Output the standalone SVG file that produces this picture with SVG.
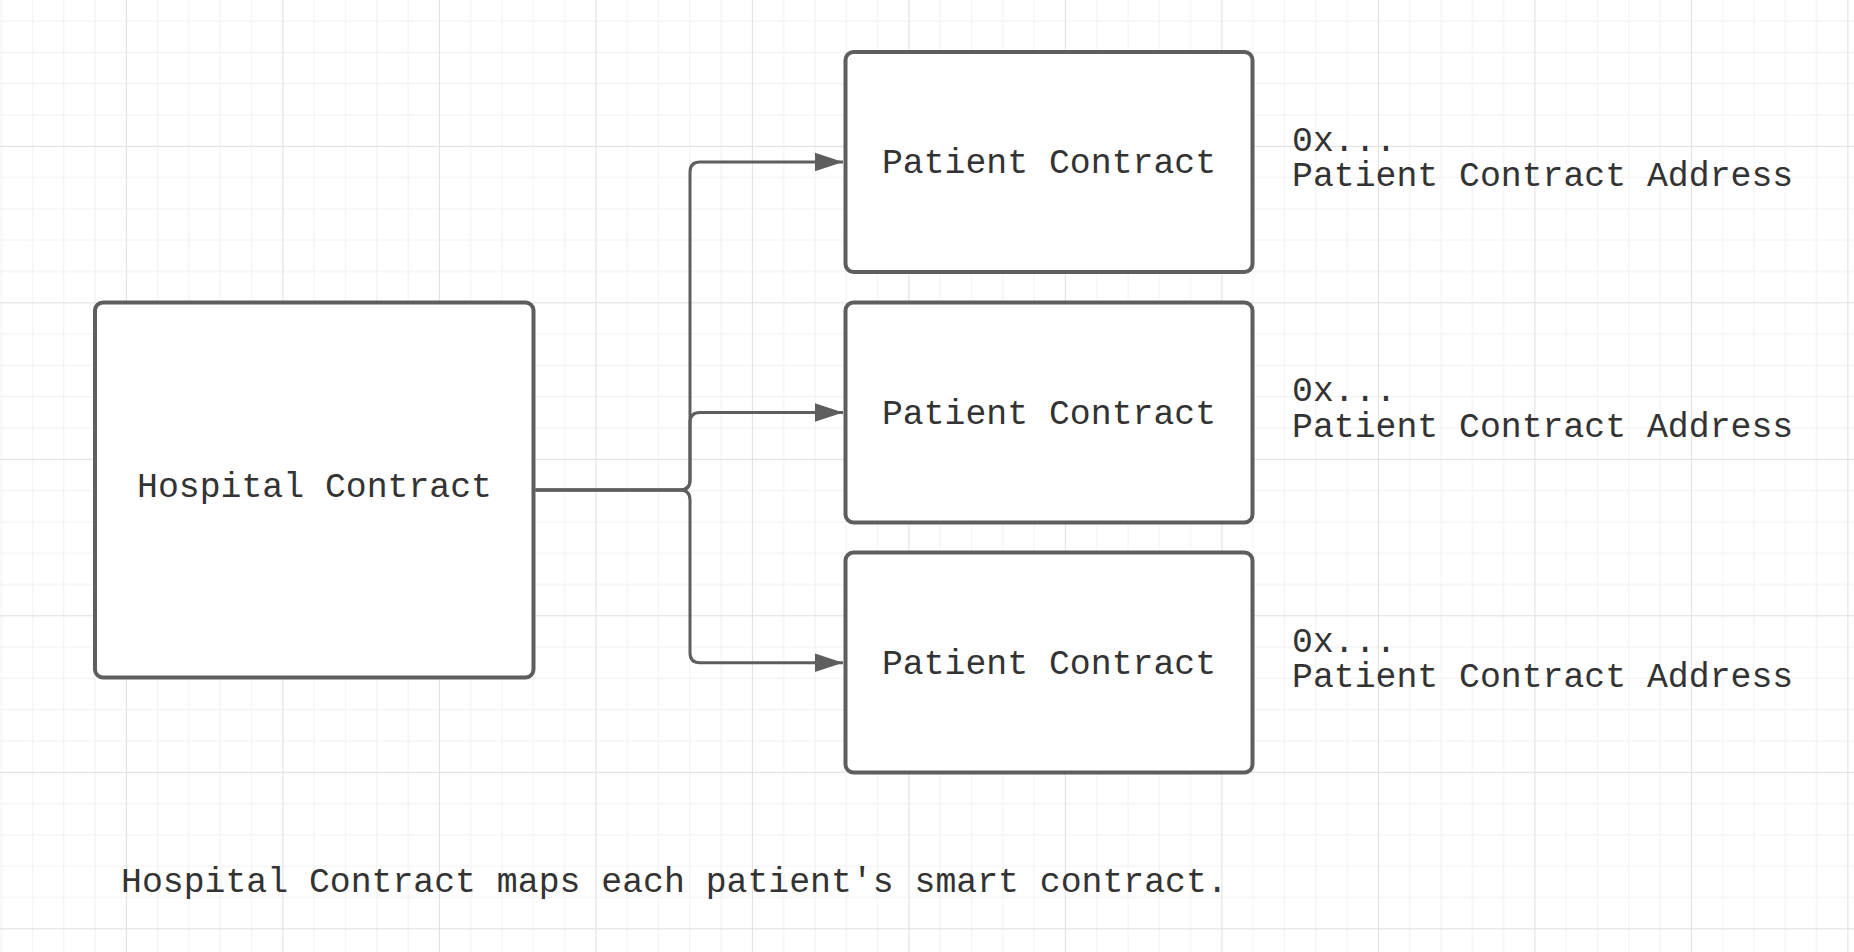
<svg xmlns="http://www.w3.org/2000/svg" width="1854" height="952" viewBox="0 0 1854 952">
  <style>
    .box { fill: #ffffff; stroke: #5e5e5e; stroke-width: 4; }
    .lbl { font-family: "Liberation Mono", "DejaVu Sans Mono", monospace; font-size: 34.8px; fill: #333333; }
    .mid { text-anchor: middle; }
    .conn { fill: none; stroke: #5e5e5e; stroke-width: 3; }
  </style>
  <defs>
    <pattern id="grid" patternUnits="userSpaceOnUse" x="125.9" y="145.8" width="156.5" height="156.5">
      <rect x="31.3" y="0" width="1" height="156.5" fill="#f0f0f0"/>
      <rect x="62.6" y="0" width="1" height="156.5" fill="#f0f0f0"/>
      <rect x="93.9" y="0" width="1" height="156.5" fill="#f0f0f0"/>
      <rect x="125.2" y="0" width="1" height="156.5" fill="#f0f0f0"/>
      <rect x="0" y="31.3" width="156.5" height="1" fill="#f0f0f0"/>
      <rect x="0" y="62.6" width="156.5" height="1" fill="#f0f0f0"/>
      <rect x="0" y="93.9" width="156.5" height="1" fill="#f0f0f0"/>
      <rect x="0" y="125.2" width="156.5" height="1" fill="#f0f0f0"/>
      <rect x="0" y="0" width="1" height="156.5" fill="#dfdfdf"/>
      <rect x="0" y="0" width="156.5" height="1" fill="#dfdfdf"/>
    </pattern>
    <marker id="arrow" markerUnits="userSpaceOnUse" markerWidth="28" markerHeight="20" refX="28" refY="10" orient="auto">
      <path d="M0,0.8 L28,10 L0,19.2 Z" fill="#5e5e5e"/>
    </marker>
  </defs>
  <rect width="1854" height="952" fill="#ffffff"/>
  <rect width="1854" height="952" fill="url(#grid)"/>

  <g id="connectors">
    <path class="conn" marker-end="url(#arrow)" d="M535.5,490 H680 Q690,490 690,480 V172 Q690,162 700,162 H843"/>
    <path class="conn" marker-end="url(#arrow)" d="M535.5,490 H680 Q690,490 690,480 V422.5 Q690,412.5 700,412.5 H843"/>
    <path class="conn" marker-end="url(#arrow)" d="M535.5,490 H680 Q690,490 690,500 V652.7 Q690,662.7 700,662.7 H843"/>
  </g>

  <g id="hospital">
    <rect class="box" x="95" y="302.5" width="438.5" height="375" rx="8" ry="8"/>
    <text class="lbl mid" x="314.5" y="496.7">Hospital Contract</text>
  </g>

  <g id="patient1">
    <rect class="box" x="845.5" y="52" width="407" height="220" rx="8" ry="8"/>
    <text class="lbl mid" x="1049" y="173.3">Patient Contract</text>
  </g>
  <g id="patient2">
    <rect class="box" x="845.5" y="302.5" width="407" height="220" rx="8" ry="8"/>
    <text class="lbl mid" x="1049" y="423.6">Patient Contract</text>
  </g>
  <g id="patient3">
    <rect class="box" x="845.5" y="552.5" width="407" height="220" rx="8" ry="8"/>
    <text class="lbl mid" x="1049" y="674">Patient Contract</text>
  </g>

  <g id="address1">
    <text class="lbl" x="1292" y="150.7">0x...</text>
    <text class="lbl" x="1292" y="186">Patient Contract Address</text>
  </g>
  <g id="address2">
    <text class="lbl" x="1292" y="401.2">0x...</text>
    <text class="lbl" x="1292" y="436.5">Patient Contract Address</text>
  </g>
  <g id="address3">
    <text class="lbl" x="1292" y="651.5">0x...</text>
    <text class="lbl" x="1292" y="686.8">Patient Contract Address</text>
  </g>

  <g id="caption">
    <text class="lbl" x="121" y="892.3">Hospital Contract maps each patient's smart contract.</text>
  </g>
</svg>
